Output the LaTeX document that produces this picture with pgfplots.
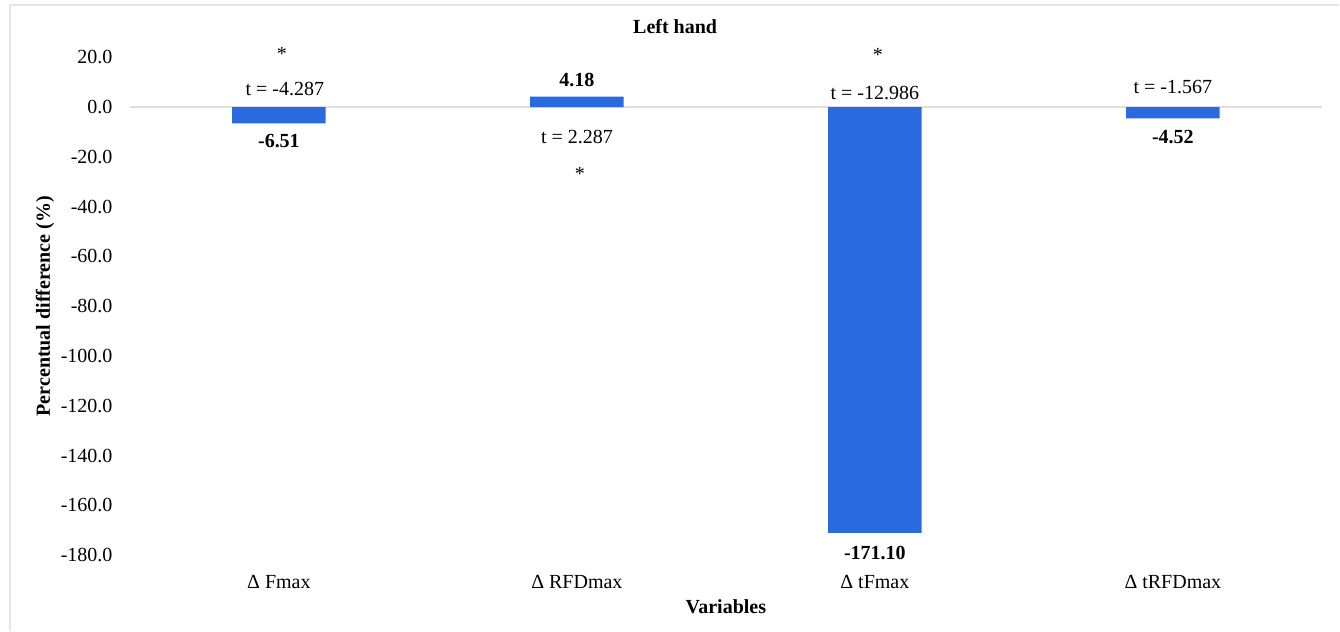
\documentclass[border=0pt]{standalone}
\usepackage{fontspec}
\setmainfont{Liberation Serif}
\usepackage{pgfplots}
\pgfplotsset{compat=1.18}
\definecolor{barblue}{RGB}{41,106,224}
\definecolor{zerogray}{RGB}{222,222,222}
\definecolor{framegray}{RGB}{230,230,230}
\begin{document}
\begin{tikzpicture}
\begin{axis}[
  scale only axis, width=596.3pt, height=249pt,
  ymin=-180, ymax=20, ytick={-180,-160,-140,-120,-100,-80,-60,-40,-20,0,20},
  xmin=-0.5, xmax=3.5,
  xtick={0,1,2,3}, xticklabels={Δ Fmax, Δ RFDmax, Δ tFmax, Δ tRFDmax},
  axis line style={draw=none},
  major tick length=0pt,
  font=\fontsize{10}{12}\selectfont,
  yticklabel style={anchor=east, xshift=-5.2pt},
  xticklabel style={anchor=base, yshift=-16.6pt},
  /pgf/number format/.cd, fixed, fixed zerofill, precision=1, assume math mode=true,
  /pgfplots/.cd,
  extra y ticks={0}, extra y tick labels={},
  extra y tick style={grid=major, major grid style={draw=zerogray, line width=0.8pt}},
  clip=false,
]
\addplot[ybar, bar width=46.7pt, fill=barblue, draw=none] coordinates {(0,-6.51) (1,4.18) (2,-171.10) (3,-4.52)};
% value labels
\node[font=\fontsize{10}{12}\selectfont\bfseries] at (axis cs:0,-13.5) {-6.51};
\node[font=\fontsize{10}{12}\selectfont\bfseries] at (axis cs:1,11.1) {4.18};
\node[font=\fontsize{10}{12}\selectfont\bfseries] at (axis cs:2,-179.2) {-171.10};
\node[font=\fontsize{10}{12}\selectfont\bfseries] at (axis cs:3,-12.1) {-4.52};
% t statistics
\node at (axis cs:0.02,7.4) {t = -4.287};
\node at (axis cs:1,-12.1) {t = 2.287};
\node at (axis cs:2,5.8) {t = -12.986};
\node at (axis cs:3,8.0) {t = -1.567};
% significance
\node at (axis cs:0.01,21.5) {*};
\node at (axis cs:1.01,-26.8) {*};
\node at (axis cs:2.01,20.9) {*};
% titles
\node[font=\fontsize{10}{12}\selectfont\bfseries] at ([xshift=-25.4pt,yshift=15.3pt]rel axis cs:0.5,1) {Left hand};
\node[font=\fontsize{10}{12}\selectfont\bfseries, anchor=base] at ([yshift=-29.3pt]rel axis cs:0.5,0) {Variables};
\node[font=\fontsize{10}{12}\selectfont\bfseries, rotate=90] at ([xshift=-42.5pt]rel axis cs:0,0.5) {Percentual difference (\%)};
\coordinate (fa) at ([shift={(-60pt,-38pt)}]rel axis cs:0,0);
\coordinate (fb) at ([shift={(-60pt,26.2pt)}]rel axis cs:0,1);
\coordinate (fc) at ([shift={(8.7pt,26.2pt)}]rel axis cs:1,1);
\coordinate (bba) at ([shift={(-65pt,-38pt)}]rel axis cs:0,0);
\coordinate (bbb) at ([shift={(8.7pt,28.7pt)}]rel axis cs:1,1);
\end{axis}
\path (bba) rectangle (bbb);
\draw[framegray, line width=0.75pt] (fa) -- (fb) -- (fc);
\end{tikzpicture}
\end{document}
